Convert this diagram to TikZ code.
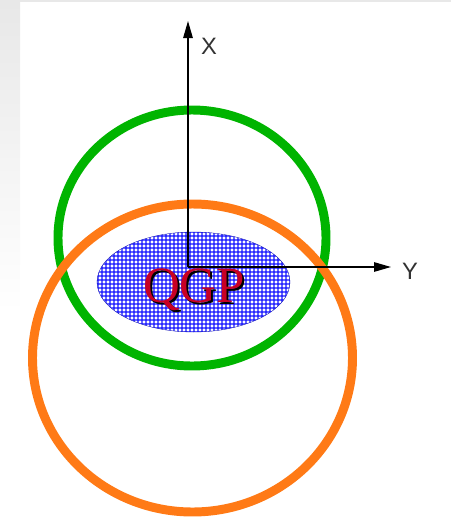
\documentclass[tikz,border=0pt]{standalone}
\usepackage{fontspec}
\setmainfont{Liberation Serif}
\newfontfamily\axisfont{Liberation Sans}
\usetikzlibrary{arrows.meta,patterns.meta}
\tikzset{every picture/.style={line width=0.75pt}}

\definecolor{pagegray}{RGB}{232,232,232}
\definecolor{ringgreen}{RGB}{0,180,0}
\definecolor{ringorange}{RGB}{255,122,22}
\definecolor{qgpred}{RGB}{200,0,36}
\definecolor{labelgray}{RGB}{50,50,50}
\definecolor{meshblue}{RGB}{20,20,255}

% blue mesh for the plasma blob
\tikzdeclarepattern{
  name=qgpmesh,
  type=uncolored,
  bounding box={(0,0) and (2.5pt,2.5pt)},
  tile size={(2.5pt,2.5pt)},
  code={
    \draw[line width=0.85pt] (0,1.25pt) -- (2.5pt,1.25pt) (1.25pt,0) -- (1.25pt,2.5pt);
  }
}

\tikzset{
  ring/.style={line width=5.1pt},
  axisline/.style={line width=0.7pt,-{Triangle[length=0.34cm,width=0.19cm]}},
  axislabel/.style={anchor=base,text=labelgray,font=\axisfont\fontsize{13.5}{14}\selectfont},
  qgpfont/.style={anchor=base,font=\fontsize{29}{30}\selectfont}
}

\begin{document}
\begin{tikzpicture}[x=0.02cm,y=-0.02cm]
    \useasboundingbox (0,0) rectangle (451,518);

    % Slide background
    \fill[pagegray] (0,0) rectangle (451,2);
    \shade[top color=pagegray,bottom color=white] (0,2) rectangle (20,312);

    % Nuclei rings (orange over green)
    \draw[ring,ringgreen] (192,238) ellipse (134 and 128);
    \draw[ring,ringorange] (192.5,358) ellipse (160 and 154);

    % Plasma blob
    \fill[pattern=qgpmesh,pattern color=meshblue] (193.5,282) ellipse (96.5 and 50);
    \draw[meshblue!70!black,line width=0.2pt] (193.5,282) ellipse (96.5 and 50);

    % Label with shadow
    \node[qgpfont,text=black] (qgpshadow) at (196,304) {QGP};
    \node[qgpfont,text=qgpred] (qgp) at (194,302) {QGP};

    % Axes
    \coordinate (origin) at (188,267);
    \coordinate (xtip) at (188,21);
    \coordinate (ytip) at (391,267);
    \draw[axisline] (origin) -- (xtip);
    \draw[axisline] (origin) -- (ytip);
    \node[axislabel] (xlabel) at (209,54) {X};
    \node[axislabel] (ylabel) at (410,279) {Y};
\end{tikzpicture}
\end{document}
